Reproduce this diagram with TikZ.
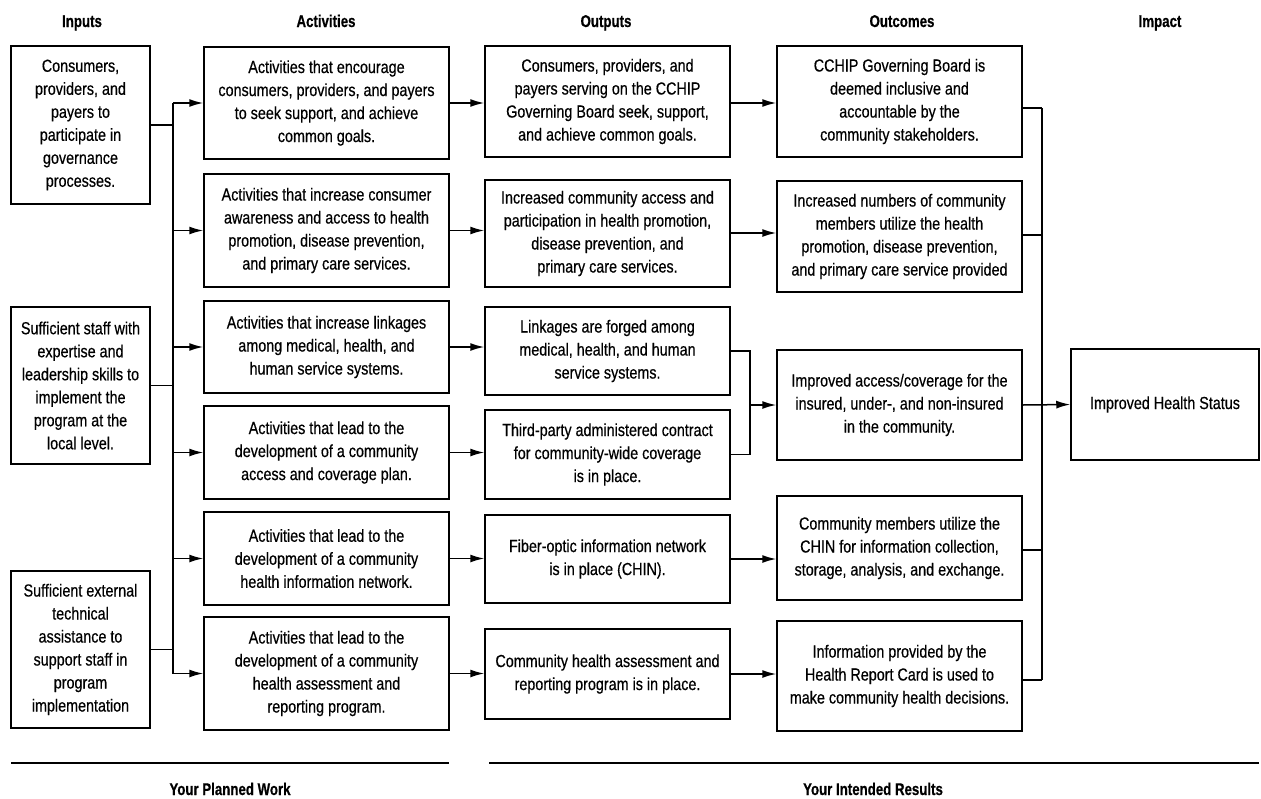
\documentclass[tikz,border=0pt]{standalone}
\usepackage{fontspec}
\setmainfont{Liberation Sans}[FakeStretch=0.82, FakeBold=0.5]
\newfontfamily\hdfont{Liberation Sans}[FakeStretch=0.78, BoldFeatures={FakeBold=0.6}]
\usetikzlibrary{arrows.meta}
\begin{document}
\begin{tikzpicture}[x=1pt,y=-1pt,
  box/.style={draw, line width=1.5pt, inner sep=0pt, align=center, font=\fontsize{17.5}{23}\selectfont},
  hd/.style={font=\hdfont\bfseries\fontsize{17}{20}\selectfont, anchor=base},
  arr/.style={line width=1.5pt, -{Latex[length=14pt,width=8pt]}},
  ln/.style={line width=1.5pt}]
\useasboundingbox (0,0) rectangle (1261,798);
% headings
\node[hd] (hIn) at (82,27) {Inputs};
\node[hd] (hAc) at (326,27) {Activities};
\node[hd] (hOu) at (606,27) {Outputs};
\node[hd] (hOc) at (902,27) {Outcomes};
\node[hd] (hIm) at (1160,27) {Impact};
% inputs
\node[box, minimum width=139pt, minimum height=158pt] (I1) at (80.5,125) {Consumers,\\providers, and\\payers to\\participate in\\governance\\processes.};
\node[box, minimum width=139pt, minimum height=157pt] (I2) at (80.5,385.5) {Sufficient staff with\\expertise and\\leadership skills to\\implement the\\program at the\\local level.};
\node[box, minimum width=139pt, minimum height=157pt] (I3) at (80.5,649.5) {Sufficient external\\technical\\assistance to\\support staff in\\program\\implementation};
% activities
\node[box, minimum width=245pt, minimum height=112pt] (A1) at (326.5,103) {Activities that encourage\\consumers, providers, and payers\\to seek support, and achieve\\common goals.};
\node[box, minimum width=245pt, minimum height=113pt] (A2) at (326.5,230.5) {Activities that increase consumer\\awareness and access to health\\promotion, disease prevention,\\and primary care services.};
\node[box, minimum width=245pt, minimum height=92pt] (A3) at (326.5,347) {Activities that increase linkages\\among medical, health, and\\human service systems.};
\node[box, minimum width=245pt, minimum height=93pt] (A4) at (326.5,452.5) {Activities that lead to the\\development of a community\\access and coverage plan.};
\node[box, minimum width=245pt, minimum height=93pt] (A5) at (326.5,558.5) {Activities that lead to the\\development of a community\\health information network.};
\node[box, minimum width=245pt, minimum height=113pt] (A6) at (326.5,673.5) {Activities that lead to the\\development of a community\\health assessment and\\reporting program.};
% outputs
\node[box, minimum width=245pt, minimum height=111pt] (O1) at (607.5,101.5) {Consumers, providers, and\\payers serving on the CCHIP\\Governing Board seek, support,\\and achieve common goals.};
\node[box, minimum width=245pt, minimum height=107pt] (O2) at (607.5,233.5) {Increased community access and\\participation in health promotion,\\disease prevention, and\\primary care services.};
\node[box, minimum width=245pt, minimum height=88pt] (O3) at (607.5,351) {Linkages are forged among\\medical, health, and human\\service systems.};
\node[box, minimum width=245pt, minimum height=89pt] (O4) at (607.5,454.5) {Third-party administered contract\\for community-wide coverage\\is in place.};
\node[box, minimum width=245pt, minimum height=88pt] (O5) at (607.5,559) {Fiber-optic information network\\is in place (CHIN).};
\node[box, minimum width=245pt, minimum height=90pt] (O6) at (607.5,674) {Community health assessment and\\reporting program is in place.};
% outcomes
\node[box, minimum width=245pt, minimum height=111pt] (C1) at (899.5,101.5) {CCHIP Governing Board is\\deemed inclusive and\\accountable by the\\community stakeholders.};
\node[box, minimum width=245pt, minimum height=111pt] (C2) at (899.5,236.5) {Increased numbers of community\\members utilize the health\\promotion, disease prevention,\\and primary care service provided};
\node[box, minimum width=245pt, minimum height=110pt] (C3) at (899.5,405) {Improved access/coverage for the\\insured, under-, and non-insured\\in the community.};
\node[box, minimum width=245pt, minimum height=104pt] (C4) at (899.5,548) {Community members utilize the\\CHIN for information collection,\\storage, analysis, and exchange.};
\node[box, minimum width=245pt, minimum height=110pt] (C5) at (899.5,676) {Information provided by the\\Health Report Card is used to\\make community health decisions.};
% impact
\node[box, minimum width=188pt, minimum height=111pt] (Im) at (1165,404.5) {Improved Health Status};
% input bus
\coordinate (bt) at (173,103);
\coordinate (bb) at (173,673.5);
\draw[ln] (bt) -- (bb);
\draw[ln] (I1.east) -- (I1.east -| bt);
\draw[ln] (I2.east) -- (I2.east -| bt);
\draw[ln] (I3.east) -- (I3.east -| bt);
\foreach \a in {A1,A2,A3,A4,A5,A6}{
  \draw[arr] (\a.west -| bt) -- (\a.west);
}
% activities -> outputs
\draw[arr] (A1.east) -- (A1.east -| O1.west);
\draw[arr] (A2.east) -- (A2.east -| O2.west);
\draw[arr] (A3.east) -- (A3.east -| O3.west);
\draw[arr] (A4.east) -- (A4.east -| O4.west);
\draw[arr] (A5.east) -- (A5.east -| O5.west);
\draw[arr] (A6.east) -- (A6.east -| O6.west);
% outputs -> outcomes
\draw[arr] (O1.east |- 0,103) -- (C1.west |- 0,103);
\draw[arr] (O2.east |- 0,233) -- (C2.west |- 0,233);
\coordinate (m) at (750,405);
\draw[ln] (O3.east) -| (m) |- (O4.east);
\draw[arr] (m) -- (C3.west);
\draw[arr] (O5.east) -- (O5.east -| C4.west);
\draw[arr] (O6.east) -- (O6.east -| C5.west);
% outcomes -> impact bus
\coordinate (ct) at (1042,108);
\coordinate (cb) at (1042,680);
\draw[ln] (ct) -- (cb);
\draw[ln] (C1.east |- ct) -- (ct);
\draw[ln] (C2.east |- 0,235) -- (1042,235);
\draw[ln] (C4.east |- 0,550) -- (1042,550);
\draw[ln] (C5.east |- cb) -- (cb);
\draw[arr] (C3.east) -- (Im.west);
% bottom
\coordinate (l1a) at (11,763); \coordinate (l1b) at (449,763);
\coordinate (l2a) at (489,763); \coordinate (l2b) at (1259,763);
\draw[ln] (l1a) -- (l1b);
\draw[ln] (l2a) -- (l2b);
\node[hd] (pw) at (230,795) {Your Planned Work};
\node[hd] (ir) at (873,795) {Your Intended Results};
\end{tikzpicture}
\end{document}
